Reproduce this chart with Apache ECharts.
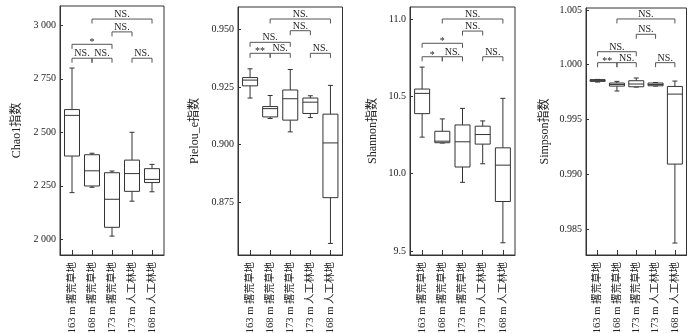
<!DOCTYPE html>
<html>
<head>
<meta charset="utf-8">
<script src="https://cdn.jsdelivr.net/npm/echarts@6/dist/echarts.min.js"></script>
<style>
  html, body { margin: 0; padding: 0; background: #fff; }
  #chart { width: 700px; height: 333px; }
</style>
</head>
<body>
<div id="chart"></div>
<script>
// Sites along the x axis
const categories = ['163 m 撂荒草地', '168 m 撂荒草地', '173 m 撂荒草地', '173 m 人工林地', '168 m 人工林地'];

// Box statistics per site: [min, Q1, median, Q3, max]
const chao1Box = [
  [2218, 2389, 2579, 2606, 2800],
  [2243, 2249, 2320, 2395, 2402],
  [2015, 2056, 2187, 2311, 2319],
  [2178, 2224, 2307, 2370, 2500],
  [2222, 2265, 2280, 2330, 2350]
];
const pielouBox = [
  [0.9203, 0.9256, 0.9281, 0.9292, 0.9330],
  [0.9114, 0.9121, 0.9157, 0.9166, 0.9214],
  [0.9056, 0.9107, 0.9200, 0.9238, 0.9327],
  [0.9118, 0.9136, 0.9185, 0.9203, 0.9213],
  [0.8571, 0.8770, 0.9008, 0.9133, 0.9258]
];
const shannonBox = [
  [10.236, 10.388, 10.519, 10.547, 10.689],
  [10.198, 10.200, 10.210, 10.274, 10.354],
  [9.944, 10.043, 10.206, 10.315, 10.422],
  [10.064, 10.191, 10.253, 10.307, 10.341],
  [9.553, 9.820, 10.055, 10.167, 10.487]
];
const simpsonBox = [
  [0.99842, 0.99848, 0.99857, 0.99864, 0.99866],
  [0.99760, 0.99805, 0.99820, 0.99833, 0.99848],
  [0.99796, 0.99799, 0.99824, 0.99854, 0.99879],
  [0.99805, 0.99808, 0.99820, 0.99833, 0.99838],
  [0.98372, 0.99093, 0.99732, 0.99802, 0.99851]
];

// Pairwise significance: [from site, to site, bracket height, mark]
const chao1Sig = [
  [1, 4, 3029, 'NS.'], [2, 3, 2969, 'NS.'], [0, 2, 2911, '*'],
  [0, 1, 2846, 'NS.'], [1, 2, 2846, 'NS.'], [3, 4, 2846, 'NS.']
];
const pielouSig = [
  [1, 4, 0.95465, 'NS.'], [2, 3, 0.94957, 'NS.'], [0, 2, 0.94452, 'NS.'],
  [0, 1, 0.93974, '**'], [1, 2, 0.93974, 'NS.'], [3, 4, 0.93974, 'NS.']
];
const shannonSig = [
  [1, 4, 11.000, 'NS.'], [2, 3, 10.922, 'NS.'], [0, 2, 10.843, '*'],
  [0, 1, 10.756, '*'], [1, 2, 10.756, 'NS.'], [3, 4, 10.756, 'NS.']
];
const simpsonSig = [
  [1, 4, 1.00418, 'NS.'], [2, 3, 1.00278, 'NS.'], [0, 2, 1.00119, 'NS.'],
  [0, 1, 1.00019, '**'], [1, 2, 1.00019, 'NS.'], [3, 4, 1.00019, 'NS.']
];

// Y-axis tick labels
const chao1Ticks = [2000, 2250, 2500, 2750, 3000];
const pielouTicks = [0.875, 0.900, 0.925, 0.950];
const shannonTicks = [9.5, 10.0, 10.5, 11.0];
const simpsonTicks = [0.985, 0.990, 0.995, 1.000, 1.005];

const FONT = "'Liberation Serif', 'Times New Roman', 'Noto Sans CJK SC', serif";
const INK = '#333';
const TEXT = '#222';

const panels = [
  { name: 'Chao1指数', box: chao1Box, sig: chao1Sig, ticks: chao1Ticks,
    fmt: v => String(Math.round(v)).replace(/(\d)(\d{3})$/, '$1 $2'),
    grid: { left: 60, top: 6, width: 104, height: 249 }, min: 1926.6, max: 3090, gap: 37 },
  { name: 'Pielou_e指数', box: pielouBox, sig: pielouSig, ticks: pielouTicks,
    fmt: v => v.toFixed(3),
    grid: { left: 238, top: 7, width: 104.5, height: 248 }, min: 0.85208, max: 0.95987, gap: 37 },
  { name: 'Shannon指数', box: shannonBox, sig: shannonSig, ticks: shannonTicks,
    fmt: v => v.toFixed(1),
    grid: { left: 410, top: 7, width: 105, height: 248 }, min: 9.474, max: 11.0776, gap: 31 },
  { name: 'Simpson指数', box: simpsonBox, sig: simpsonSig, ticks: simpsonTicks,
    fmt: v => v.toFixed(3),
    grid: { left: 586, top: 8, width: 100.5, height: 247 }, min: 0.98263, max: 1.00518, gap: 35 }
];

const siteIdx = categories.map((c, i) => i);

// Box-and-whisker glyph: narrow caps, white box, median line
function renderBox(params, api) {
  const i = api.value(0);
  const lo = api.coord([i, api.value(1)]);
  const q1 = api.coord([i, api.value(2)]);
  const md = api.coord([i, api.value(3)]);
  const q3 = api.coord([i, api.value(4)]);
  const hi = api.coord([i, api.value(5)]);
  const x = lo[0], hw = 7.5, cw = 2.5;
  const st = { stroke: INK, lineWidth: 1, fill: null };
  return {
    type: 'group',
    children: [
      { type: 'line', shape: { x1: x, y1: hi[1], x2: x, y2: q3[1] }, style: st },
      { type: 'line', shape: { x1: x, y1: q1[1], x2: x, y2: lo[1] }, style: st },
      { type: 'line', shape: { x1: x - cw, y1: hi[1], x2: x + cw, y2: hi[1] }, style: st },
      { type: 'line', shape: { x1: x - cw, y1: lo[1], x2: x + cw, y2: lo[1] }, style: st },
      { type: 'rect', shape: { x: x - hw, y: q3[1], width: 2 * hw, height: Math.max(q1[1] - q3[1], 0.5) },
        style: { stroke: INK, lineWidth: 1, fill: '#fff' } },
      { type: 'line', shape: { x1: x - hw, y1: md[1], x2: x + hw, y2: md[1] }, style: st }
    ]
  };
}

// Comparison bracket with its significance mark
function makeSigRenderer(sig) {
  return function (params, api) {
    const s = sig[params.dataIndex];
    const a = api.coord([s[0], s[2]]);
    const b = api.coord([s[1], s[2]]);
    const drop = 4.5;
    const star = s[3].indexOf('*') >= 0;
    return {
      type: 'group',
      children: [
        { type: 'polyline',
          shape: { points: [[a[0], a[1] + drop], [a[0], a[1]], [b[0], b[1]], [b[0], b[1] + drop]] },
          style: { stroke: '#555', lineWidth: 1, fill: null } },
        { type: 'text',
          style: { text: s[3], x: (a[0] + b[0]) / 2, y: a[1] + (star ? 3.5 : 0.5),
                   align: 'center', verticalAlign: 'bottom',
                   font: '10px ' + FONT, fill: TEXT } }
      ]
    };
  };
}

const option = {
  animation: false,
  backgroundColor: '#fff',
  grid: panels.map(p => Object.assign({ show: true, borderColor: INK, borderWidth: 1,
                                        backgroundColor: 'transparent', containLabel: false,
                                        outerBoundsMode: 'none' }, p.grid)),
  xAxis: panels.map((p, k) => ({
    type: 'value', gridIndex: k, min: -0.6, max: 4.6,
    axisLine: { show: true, onZero: false, lineStyle: { color: INK, width: 1 } },
    axisTick: { show: true, inside: true, length: 5, customValues: siteIdx, lineStyle: { color: INK } },
    axisLabel: { show: true, customValues: siteIdx, rotate: 90, margin: 7,
                 formatter: v => categories[Math.round(v)] || '',
                 fontFamily: FONT, fontSize: 10.5, color: TEXT },
    splitLine: { show: false }
  })),
  yAxis: panels.map((p, k) => ({
    type: 'value', gridIndex: k, min: p.min, max: p.max,
    name: p.name, nameLocation: 'middle', nameRotate: 90, nameGap: p.gap,
    nameTextStyle: { fontFamily: FONT, fontSize: 12, color: TEXT },
    axisLine: { show: true, onZero: false, lineStyle: { color: INK, width: 1 } },
    axisTick: { show: true, inside: true, length: 3, customValues: p.ticks, lineStyle: { color: INK } },
    axisLabel: { show: true, customValues: p.ticks, margin: 4, formatter: p.fmt,
                 fontFamily: FONT, fontSize: 10, color: TEXT },
    splitLine: { show: false }
  })),
  series: [].concat(
    panels.map((p, k) => ({
      type: 'custom', xAxisIndex: k, yAxisIndex: k,
      data: p.box.map((b, i) => [i].concat(b)),
      encode: { x: 0, y: [1, 2, 3, 4, 5] },
      renderItem: renderBox, silent: true, clip: false
    })),
    panels.map((p, k) => ({
      type: 'custom', xAxisIndex: k, yAxisIndex: k,
      data: p.sig.map(s => [s[0], s[1], s[2]]),
      encode: { x: [0, 1], y: 2 },
      renderItem: makeSigRenderer(p.sig), silent: true, clip: false
    }))
  )
};

const chart = echarts.init(document.getElementById('chart'), null, { renderer: 'canvas' });
chart.setOption(option);
</script>
</body>
</html>
